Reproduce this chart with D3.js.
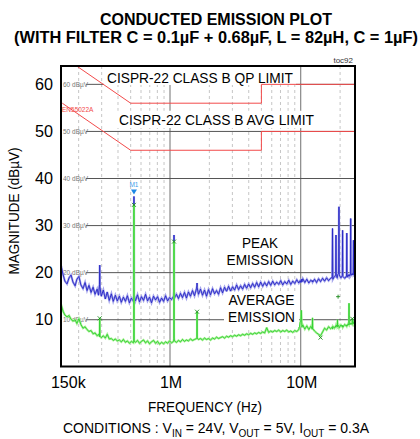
<!DOCTYPE html>
<html>
<head>
<meta charset="utf-8">
<script src="https://cdn.jsdelivr.net/npm/d3@7"></script>
<style>
body { margin: 0; background: #fff; }
svg { display: block; font-family: 'Liberation Sans', Arial, sans-serif; }
</style>
</head>
<body>
<div id="chart"></div>
<script>
'use strict';

// spectrum sweep, frequency in MHz
var freqMHz = [
    0.147, 0.152, 0.157, 0.163, 0.169, 0.175, 0.181, 0.188, 0.194, 0.201,
    0.208, 0.216, 0.224, 0.232, 0.240, 0.249, 0.258, 0.267, 0.277, 0.284,
    0.289, 0.290, 0.291, 0.298, 0.309, 0.320, 0.331, 0.343, 0.356, 0.368,
    0.382, 0.395, 0.410, 0.424, 0.440, 0.456, 0.472, 0.489, 0.507, 0.525,
    0.529, 0.530, 0.531, 0.544, 0.564, 0.584, 0.605, 0.627, 0.650, 0.673,
    0.697, 0.722, 0.748, 0.775, 0.803, 0.832, 0.862, 0.893, 0.925, 0.958,
    0.992, 1.028, 1.065, 1.072, 1.073, 1.074, 1.081, 1.120, 1.160, 1.202,
    1.245, 1.290, 1.336, 1.384, 1.434, 1.486, 1.539, 1.594, 1.608, 1.610,
    1.612, 1.651, 1.711, 1.772, 1.836, 1.902, 1.970, 2.041, 2.115, 2.191,
    2.269, 2.351, 2.436, 2.523, 2.614, 2.708, 2.805, 2.906, 3.011, 3.119,
    3.231, 3.347, 3.468, 3.592, 3.721, 3.855, 3.994, 4.137, 4.286, 4.440,
    4.600, 4.766, 4.937, 5.114, 5.298, 5.489, 5.686, 5.891, 6.102, 6.322,
    6.549, 6.785, 7.029, 7.282, 7.543, 7.815, 8.096, 8.387, 8.689, 9.001,
    9.325, 9.660, 9.90, 10.0, 10.1, 10.2, 10.37, 10.74, 11.13, 11.53,
    11.94, 12.25, 12.3, 12.35, 12.75, 13.21, 13.69, 14.18, 14.69, 15.22,
    15.77, 16.33, 16.92, 17.40, 17.50, 17.60, 18.1, 18.5, 18.6, 18.7,
    19.05, 19.1, 19.15, 19.5, 19.6, 19.7, 20.3, 20.8, 20.9, 21.0,
    21.7, 22.4, 22.5, 22.6, 23.0, 23.35, 23.4, 23.45, 24.0, 24.1,
    24.2, 24.75, 24.8, 24.85, 25.2, 25.3, 25.4, 26.0
];

var peakDb = [
    21.4, 19.6, 18.2, 17.6, 18.9, 19.5, 18.0, 17.2, 18.6, 19.2,
    17.4, 16.6, 17.9, 16.2, 17.3, 15.8, 16.9, 15.4, 16.5, 15.2,
    17.5, 21.6, 17.0, 15.0, 16.3, 14.4, 15.9, 14.1, 15.5, 13.9,
    15.2, 14.0, 15.0, 13.7, 14.8, 13.9, 15.1, 13.6, 14.6, 13.9,
    15.0, 36.2, 15.2, 14.0, 15.3, 13.8, 14.9, 14.1, 15.4, 14.0,
    14.8, 13.6, 15.0, 14.2, 14.9, 13.7, 14.6, 13.9, 15.1, 14.0,
    14.7, 14.3, 15.0, 16.0, 28.0, 15.8, 14.6, 15.4, 14.5, 15.6,
    14.7, 15.8, 14.6, 15.9, 15.0, 16.2, 15.1, 16.6, 17.2, 17.8,
    16.9, 15.4, 16.5, 15.2, 16.3, 15.0, 16.4, 15.3, 16.6, 15.5,
    16.2, 15.4, 16.8, 15.7, 16.9, 16.0, 17.1, 16.1, 17.0, 16.3,
    17.4, 16.4, 17.2, 16.5, 17.5, 16.7, 17.6, 16.8, 17.7, 16.9,
    17.9, 17.0, 18.0, 17.1, 17.9, 17.2, 18.1, 17.3, 18.2, 17.4,
    18.0, 17.5, 18.3, 17.4, 18.1, 17.6, 18.4, 17.5, 18.2, 17.7,
    18.5, 17.8, 18.3, 17.9, 18.6, 18.0, 18.7, 17.9, 18.6, 17.8,
    18.4, 18.1, 18.3, 18.0, 18.6, 17.9, 18.7, 18.1, 18.8, 18.2,
    18.9, 18.3, 18.8, 19.0, 29.4, 18.6, 19.2, 19.4, 28.0, 19.1,
    18.9, 19.3, 19.6, 19.8, 34.0, 19.5, 18.9, 19.4, 29.0, 19.2,
    18.8, 19.3, 28.4, 19.0, 19.5, 19.2, 19.6, 19.3, 19.7, 31.5,
    19.4, 19.8, 19.5, 19.6, 19.9, 26.9, 19.5, 19.8
];

var avgDb = [
    13.2, 11.8, 11.0, 10.6, 10.9, 10.1, 9.7, 10.0, 9.2, 10.2,
    9.0, 8.2, 8.5, 7.9, 7.5, 7.7, 7.0, 7.2, 6.6, 6.9,
    6.4, 10.3, 6.5, 6.2, 6.6, 6.1, 6.9, 5.9, 6.0, 5.6,
    5.9, 5.5, 5.7, 5.3, 5.8, 5.2, 5.5, 5.0, 5.4, 5.1,
    5.6, 34.4, 5.5, 5.2, 5.6, 5.0, 5.4, 5.7, 5.1, 5.5,
    4.9, 5.3, 5.6, 5.0, 5.4, 4.8, 5.2, 4.9, 5.3, 5.0,
    5.5, 5.1, 5.4, 6.0, 26.6, 6.1, 5.5, 5.2, 5.6, 5.3,
    5.8, 5.4, 5.7, 5.5, 5.9, 5.6, 5.8, 6.0, 6.2, 11.7,
    6.1, 5.8, 6.0, 5.7, 6.1, 5.8, 6.0, 5.7, 6.1, 5.9,
    6.3, 6.0, 6.2, 6.4, 6.1, 6.5, 6.3, 6.6, 6.4, 6.7,
    6.5, 6.8, 6.6, 6.9, 6.7, 7.0, 6.8, 7.1, 6.9, 7.2,
    7.0, 7.3, 7.1, 7.4, 7.2, 8.3, 7.3, 7.6, 7.4, 7.7,
    7.5, 7.8, 7.4, 7.7, 7.5, 7.8, 7.4, 7.6, 7.3, 7.7,
    7.5, 7.9, 9.4, 9.7, 12.0, 8.4, 8.9, 8.0, 8.7, 7.9,
    8.6, 8.0, 10.4, 8.1, 7.6, 7.2, 6.9, 6.6, 7.4, 8.2,
    7.8, 8.5, 8.1, 8.4, 8.0, 8.6, 8.2, 8.7, 8.4, 8.9,
    8.6, 10.0, 8.5, 8.8, 8.6, 8.3, 8.9, 8.5, 8.8, 8.4,
    9.0, 8.6, 8.9, 8.7, 9.1, 8.9, 13.5, 9.0, 9.2, 9.0,
    9.3, 9.0, 10.2, 9.4, 9.1, 9.3, 9.6, 9.8
];

// CISPR-22 class B limit lines
var limitFreq = [0.15, 0.5, 5, 5, 30];
var qpLimitDb = [66, 56, 56, 60, 60];
var avgLimitDb = [56, 46, 46, 50, 50];

var yTicks = [10, 20, 30, 40, 50, 60];
var xTickFreq = [0.15, 1, 10];
var xTickLabels = ['150k', '1M', '10M'];
var decadeFreq = [1, 10];
var minorFreq = [0.2, 0.3, 0.4, 0.5, 0.6, 0.7, 0.8, 0.9, 2, 3, 4, 5, 6, 7, 8, 9, 20];

var avgMarkFreq = [0.29, 0.53, 1.073, 1.61, 14.18, 24.8];
var avgMarkDb = [10.3, 34.4, 26.6, 11.7, 6.2, 10.2];
var qpMarkFreq = [19.3];
var qpMarkDb = [14.9];
var m1Freq = 0.53;
var m1Db = 36.2;

var W = 420, H = 439;
var plot = { left: 61, right: 355, top: 66, bottom: 366.5 };

var svg = d3.select('#chart').append('svg')
    .attr('width', W)
    .attr('height', H);

var x = d3.scaleLog().domain([0.1466, 26]).range([plot.left, plot.right]);
var y = d3.scaleLinear().domain([0, 63.9]).range([366.8, plot.top]);

svg.append('defs').append('clipPath').attr('id', 'plotClip')
    .append('rect')
    .attr('x', plot.left).attr('y', plot.top)
    .attr('width', plot.right - plot.left).attr('height', plot.bottom - plot.top);

/************ titles ************/
svg.append('text')
    .attr('x', 216).attr('y', 25)
    .attr('text-anchor', 'middle')
    .attr('font-weight', 'bold').attr('font-size', 17)
    .attr('textLength', 232).attr('lengthAdjust', 'spacingAndGlyphs')
    .text('CONDUCTED EMISSION PLOT');

svg.append('text')
    .attr('x', 216).attr('y', 43)
    .attr('text-anchor', 'middle')
    .attr('font-weight', 'bold').attr('font-size', 16)
    .attr('textLength', 404).attr('lengthAdjust', 'spacingAndGlyphs')
    .text('(WITH FILTER C = 0.1\u00b5F + 0.68\u00b5F, L = 82\u00b5H, C = 1\u00b5F)');

svg.append('text')
    .attr('x', 353).attr('y', 63)
    .attr('text-anchor', 'end')
    .attr('font-size', 8).attr('fill', '#333')
    .text('toc92');

/************ grid ************/
var grid = svg.append('g').attr('class', 'grid');

grid.selectAll('.minor')
    .data(minorFreq)
    .enter().append('line')
    .attr('x1', function (d) { return x(d); })
    .attr('x2', function (d) { return x(d); })
    .attr('y1', plot.top).attr('y2', plot.bottom)
    .attr('stroke', '#b8b8b8').attr('stroke-width', 0.8)
    .attr('stroke-dasharray', '3,3');

grid.selectAll('.decade')
    .data(decadeFreq)
    .enter().append('line')
    .attr('x1', function (d) { return x(d); })
    .attr('x2', function (d) { return x(d); })
    .attr('y1', plot.top).attr('y2', plot.bottom)
    .attr('stroke', '#707070').attr('stroke-width', 1);

grid.selectAll('.hline')
    .data(yTicks)
    .enter().append('line')
    .attr('x1', plot.left + 25).attr('x2', plot.right)
    .attr('y1', function (d) { return y(d); })
    .attr('y2', function (d) { return y(d); })
    .attr('stroke', '#555').attr('stroke-width', 1);

grid.selectAll('.hlabel')
    .data(yTicks)
    .enter().append('text')
    .attr('x', plot.left + 2)
    .attr('y', function (d) { return y(d) + 2.3; })
    .attr('font-size', 6.5).attr('fill', '#777')
    .text(function (d) { return d + ' dB\u00b5V'; });

/************ limit labels ************/
function boxedLabel(lines, cx, baseline, size, width, lineGap, pad) {
    var g = svg.append('g');
    var rect = g.append('rect').attr('fill', '#fff');
    lines.forEach(function (t, i) {
        g.append('text')
            .attr('x', cx).attr('y', baseline + i * lineGap)
            .attr('text-anchor', 'middle')
            .attr('font-size', size)
            .attr('textLength', width[i]).attr('lengthAdjust', 'spacingAndGlyphs')
            .text(t);
    });
    var maxW = d3.max(width);
    rect.attr('x', cx - maxW / 2 - pad[0]).attr('y', baseline - size * 0.75 - pad[1])
        .attr('width', maxW + 2 * pad[0])
        .attr('height', size * 0.75 + (lines.length - 1) * lineGap + pad[1] + pad[2]);
    return g;
}

boxedLabel(['CISPR-22 CLASS B QP LIMIT'], 200, 83, 15, [186], 0, [3, 5, 2]);
boxedLabel(['CISPR-22 CLASS B AVG LIMIT'], 216.5, 125, 15, [195], 0, [3, 3, 3]);

svg.append('text')
    .attr('x', plot.left + 1).attr('y', 112)
    .attr('font-size', 6.5).attr('fill', '#f24a4a')
    .text('EN55022A');

/************ limit lines + traces ************/
var area = svg.append('g').attr('clip-path', 'url(#plotClip)');

var line = d3.line()
    .x(function (d) { return x(d[0]); })
    .y(function (d) { return y(d[1]); });

area.append('path')
    .attr('d', line(d3.zip(limitFreq, qpLimitDb)))
    .attr('fill', 'none').attr('stroke', '#f24a4a').attr('stroke-width', 1);
area.append('path')
    .attr('d', line(d3.zip(limitFreq, avgLimitDb)))
    .attr('fill', 'none').attr('stroke', '#f24a4a').attr('stroke-width', 1);

var peakPts = d3.zip(freqMHz, peakDb);
var avgPts = d3.zip(freqMHz, avgDb);

area.append('path')
    .attr('d', line(peakPts))
    .attr('fill', 'none').attr('stroke', '#a4a4ec').attr('stroke-width', 2.2);
area.append('path')
    .attr('d', line(peakPts))
    .attr('fill', 'none').attr('stroke', '#2727c4').attr('stroke-width', 0.9);

area.append('path')
    .attr('d', line(avgPts))
    .attr('fill', 'none').attr('stroke', '#a8f098').attr('stroke-width', 2.2);
area.append('path')
    .attr('d', line(avgPts))
    .attr('fill', 'none').attr('stroke', '#2fd02f').attr('stroke-width', 0.9);

/************ markers ************/
area.selectAll('.avgMark')
    .data(d3.zip(avgMarkFreq, avgMarkDb))
    .enter().append('path')
    .attr('transform', function (d) { return 'translate(' + x(d[0]) + ',' + y(d[1]) + ')'; })
    .attr('d', 'M-2,-2L2,2M-2,2L2,-2')
    .attr('stroke', '#1c8a1c').attr('stroke-width', 0.9);

area.selectAll('.qpMark')
    .data(d3.zip(qpMarkFreq, qpMarkDb))
    .enter().append('path')
    .attr('transform', function (d) { return 'translate(' + x(d[0]) + ',' + y(d[1]) + ')'; })
    .attr('d', 'M-2,0L2,0M0,-2L0,2')
    .attr('stroke', '#1c8a1c').attr('stroke-width', 0.9);

svg.append('path')
    .attr('transform', 'translate(' + x(m1Freq) + ',' + (y(m1Db) - 2) + ')')
    .attr('d', 'M-3,-5L3,-5L0,0Z')
    .attr('fill', '#1e88e5');
svg.append('text')
    .attr('x', x(m1Freq)).attr('y', y(m1Db) - 9)
    .attr('text-anchor', 'middle')
    .attr('font-size', 6.5).attr('fill', '#3d9be9')
    .text('M1');

/************ emission labels ************/
boxedLabel(['PEAK', 'EMISSION'], 260, 248, 15, [36, 67], 17, [4, 9, 6]);
boxedLabel(['AVERAGE', 'EMISSION'], 261.5, 305, 15, [66, 67], 17, [4, 2, 5]);

/************ frame + axes ************/
svg.append('rect')
    .attr('x', plot.left).attr('y', plot.top)
    .attr('width', plot.right - plot.left).attr('height', plot.bottom - plot.top)
    .attr('fill', 'none').attr('stroke', '#000').attr('stroke-width', 2);

svg.selectAll('.ylab')
    .data(yTicks)
    .enter().append('text')
    .attr('x', 53)
    .attr('y', function (d) { return y(d); })
    .attr('dy', '0.35em')
    .attr('text-anchor', 'end')
    .attr('font-size', 16)
    .attr('textLength', 18).attr('lengthAdjust', 'spacingAndGlyphs')
    .text(function (d) { return d; });

svg.selectAll('.xlab')
    .data(xTickFreq)
    .enter().append('text')
    .attr('x', function (d, i) { return x(d) + (i === 0 ? 6 : 1); })
    .attr('y', 388)
    .attr('text-anchor', 'middle')
    .attr('font-size', 16)
    .text(function (d, i) { return xTickLabels[i]; });

svg.append('text')
    .attr('x', 205).attr('y', 412)
    .attr('text-anchor', 'middle')
    .attr('font-size', 15)
    .attr('textLength', 114).attr('lengthAdjust', 'spacingAndGlyphs')
    .text('FREQUENCY (Hz)');

svg.append('text')
    .attr('transform', 'translate(19,211) rotate(-90)')
    .attr('text-anchor', 'middle')
    .attr('font-size', 15)
    .attr('textLength', 127).attr('lengthAdjust', 'spacingAndGlyphs')
    .text('MAGNITUDE (dB\u00b5V)');

var cond = svg.append('text')
    .attr('x', 216).attr('y', 433)
    .attr('text-anchor', 'middle')
    .attr('font-size', 14);
cond.append('tspan').text('CONDITIONS : V');
cond.append('tspan').attr('font-size', 10).attr('dy', 4).text('IN');
cond.append('tspan').attr('dy', -4).text(' = 24V, V');
cond.append('tspan').attr('font-size', 10).attr('dy', 4).text('OUT');
cond.append('tspan').attr('dy', -4).text(' = 5V, I');
cond.append('tspan').attr('font-size', 10).attr('dy', 4).text('OUT');
cond.append('tspan').attr('dy', -4).text(' = 0.3A');
</script>
</body>
</html>
